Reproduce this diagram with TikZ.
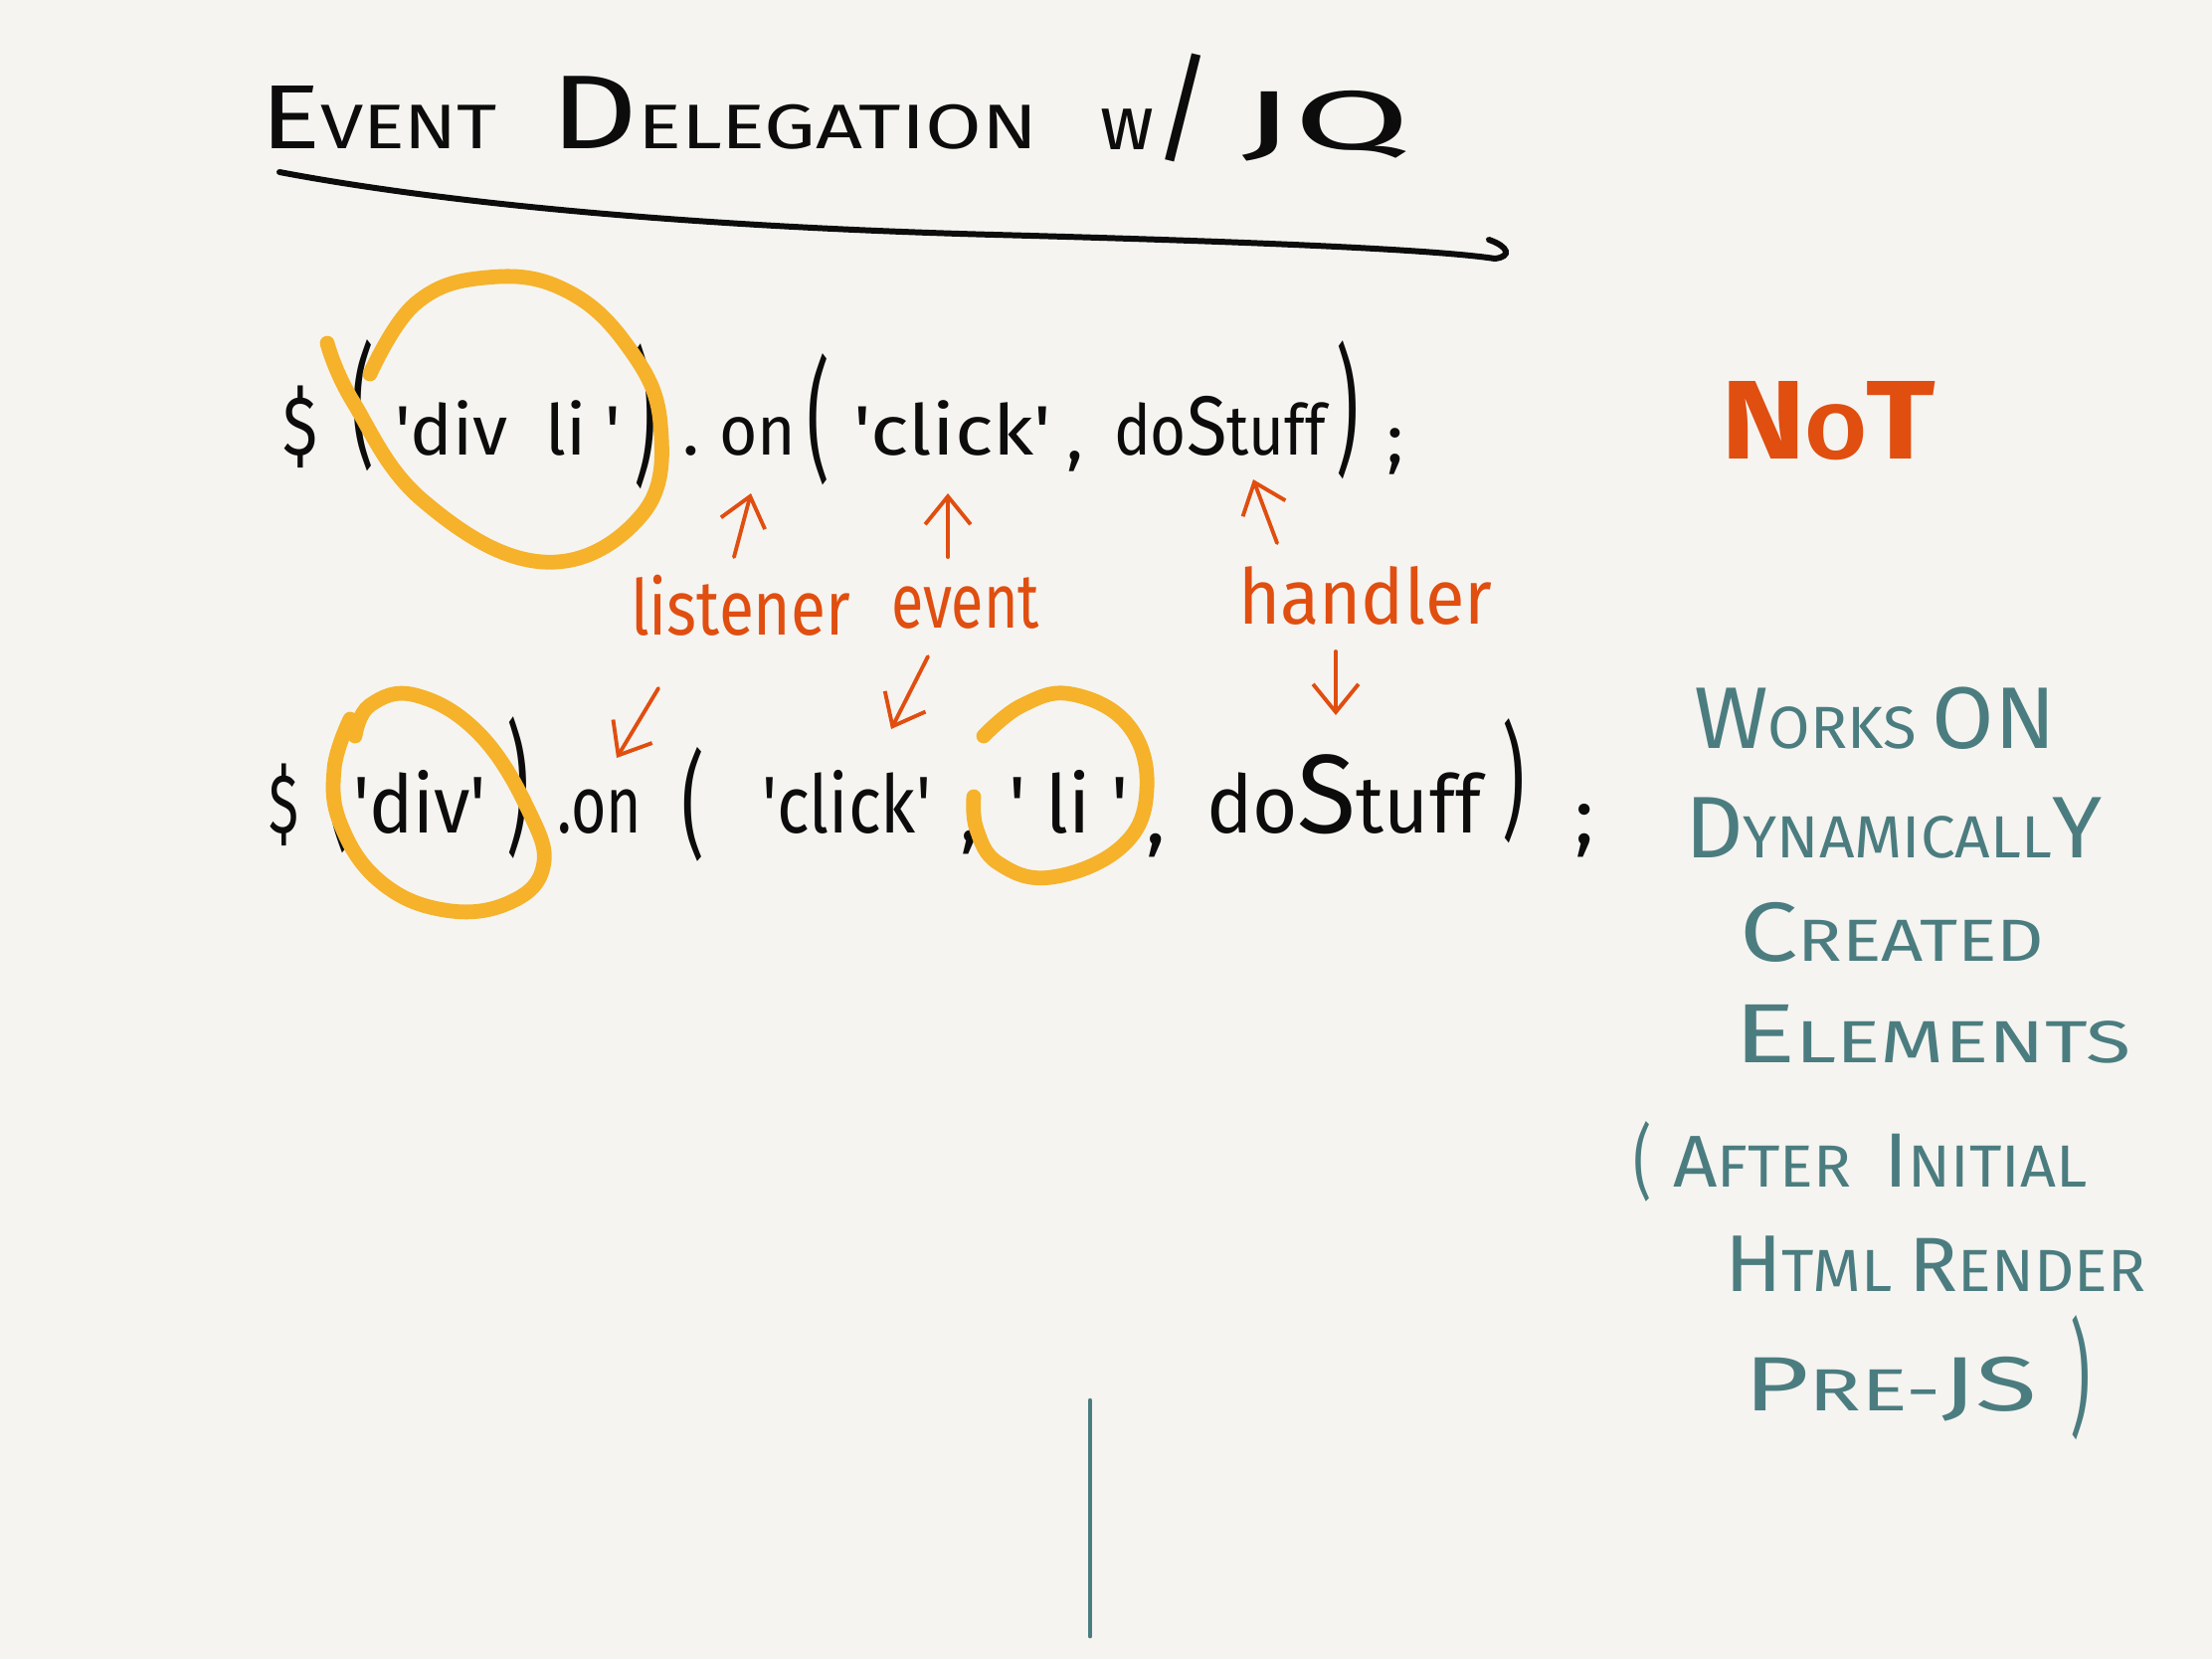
\documentclass[tikz,border=0pt]{standalone}
\usepackage{fontspec}
\setmainfont{Fira Sans}
\usetikzlibrary{arrows.meta}
\definecolor{bgc}{RGB}{245,244,240}
\definecolor{ink}{RGB}{12,12,12}
\definecolor{yel}{RGB}{245,178,42}
\definecolor{org}{RGB}{224,78,16}
\definecolor{tealink}{RGB}{75,125,128}
\newcommand\fs[1]{\fontsize{#1}{#1}\selectfont}
\newcommand\hw[3]{\resizebox{#1}{\height}{\fs{#2}#3}}
\newcommand\vp[3]{\scalebox{1}[#2]{\fs{#1}#3}}
\newcommand\qt{\textquotesingle}
\begin{document}
\begin{tikzpicture}[x=0.01cm,y=-0.01cm,
  txt/.style={inner sep=0,outer sep=0,anchor=base west},
  par/.style={inner sep=0,outer sep=0,anchor=center,text=ink},
  circ/.style={draw=yel,line width=4.2pt,line cap=round,line join=round},
  arr/.style={draw=org,line width=1.1pt,line cap=round,-{Straight Barb[length=8pt,width=13pt]}},
  uline/.style={draw=ink,line width=1.7pt,line cap=round}]
\fill[bgc] (0,0) rectangle (2224,1668);
\useasboundingbox (0,0) rectangle (2224,1668);

% title
\node[txt,text=ink] (t1) at (262,149) {\hw{2.38cm}{18}{{\fs{26}E}VENT}};
\node[txt,text=ink] (t2) at (553,149) {\hw{4.9cm}{18}{{\fs{30}D}ELEGATION}};
\node[txt,text=ink] (t3) at (1106,150) {\hw{1.14cm}{22}{w{\fs{34}/}}};
\node[txt,text=ink] (t4) at (1248,150) {\hw{1.7cm}{24}{JQ}};
\draw[uline] (281,173) .. controls (450,205) and (700,228) .. (1000,236)
  .. controls (1300,244) and (1450,252) .. (1503,260)
  .. controls (1520,258) and (1517,248) .. (1497,241);

% line 1
\node[txt,text=ink] (l1a) at (284,457) {\hw{0.35cm}{24}{\$}};
\node[par] (l1p1) at (365,408) {\vp{20}{1.9}{(}};
\node[txt,text=ink] (l1b) at (397,457) {\hw{2.27cm}{20}{\qt div\ \ li\ \qt}};
\node[par] (l1p2) at (649,419) {\vp{20}{2.1}{)}};
\node[txt,text=ink] (l1c) at (686,457) {\fs{20}.};
\node[txt,text=ink] (l1d) at (723,457) {\hw{0.77cm}{20}{on}};
\node[par] (l1p3) at (823,422) {\vp{20}{1.9}{(}};
\node[txt,text=ink] (l1e) at (858,457) {\hw{1.99cm}{20}{\qt click\qt}};
\node[txt,text=ink] (l1f) at (1072,462) {\fs{20},};
\node[txt,text=ink] (l1g) at (1120,457) {\hw{2.13cm}{20}{do{\fs{24}S}tuff}};
\node[par] (l1p4) at (1355,412) {\vp{20}{2.0}{)}};
\node[txt,text=ink] (l1h) at (1394,465) {\fs{20};};

% line 2
\node[txt,text=ink] (l2a) at (270,837) {\hw{0.3cm}{24}{\$}};
\node[par] (l2p1) at (340,792) {\vp{20}{1.9}{(}};
\node[txt,text=ink] (l2b) at (355,837) {\hw{1.34cm}{23}{\qt div\qt}};
\node[par] (l2p2) at (521,792) {\vp{20}{2.05}{)}};
\node[txt,text=ink] (l2c) at (560,837) {\hw{0.85cm}{23}{.on}};
\node[par] (l2p3) at (697,809) {\vp{20}{1.65}{(}};
\node[txt,text=ink] (l2d) at (766,837) {\hw{1.7cm}{23}{\qt click\qt}};
\node[txt,text=ink] (l2e) at (965,845) {\fs{23},};
\node[txt,text=ink] (l2f) at (1014,837) {\hw{1.21cm}{23}{\qt\ li\ \qt}};
\node[txt,text=ink] (l2g) at (1152,848) {\fs{23},};
\node[txt,text=ink] (l2h) at (1213,837) {\hw{2.76cm}{23}{do{\fs{32}S}tuff}};
\node[par] (l2p4) at (1522,785) {\vp{20}{1.8}{)}};
\node[txt,text=ink] (l2i) at (1583,848) {\fs{23};};

% yellow circles
\draw[circ] plot[smooth,tension=0.7] coordinates {(329,345) (355,404) (426,504) (546,565) (645,518) (664,426) (631,348) (567,291) (489,279) (418,305) (372,376)};
\draw[circ] plot[smooth,tension=0.7] coordinates {(357,740) (372,709) (418,699) (482,738) (532,816) (546,872) (511,908) (447,915) (383,887) (343,830) (336,773) (352,723)};
\draw[circ] plot[smooth,tension=0.7] coordinates {(989,740) (1028,709) (1078,698) (1135,730) (1153,794) (1128,851) (1057,882) (1004,868) (982,834) (979,801)};

% NOT
\node[txt,text=org] (nt) at (1730,461) {\hw{2.16cm}{32}{\bfseries N{\fs{22}O}T}};

% orange labels and arrows
\node[txt,text=org] (lis) at (634,638) {\hw{2.21cm}{22}{listener}};
\node[txt,text=org] (evt) at (896,631) {\hw{1.49cm}{22}{event}};
\node[txt,text=org] (hnd) at (1245,627) {\hw{2.55cm}{22}{handler}};
\coordinate (a1s) at (738,560); \coordinate (a1e) at (755,496);
\coordinate (a2s) at (953,560); \coordinate (a2e) at (953,496);
\coordinate (a3s) at (1284,546); \coordinate (a3e) at (1260,482);
\coordinate (a4s) at (662,692); \coordinate (a4e) at (620,762);
\coordinate (a5s) at (933,660); \coordinate (a5e) at (896,733);
\coordinate (a6s) at (1343,655); \coordinate (a6e) at (1343,719);
\draw[arr] (a1s) -- (a1e);
\draw[arr] (a2s) -- (a2e);
\draw[arr] (a3s) -- (a3e);
\draw[arr] (a4s) -- (a4e);
\draw[arr] (a5s) -- (a5e);
\draw[arr] (a6s) -- (a6e);

% teal notes
\node[txt,text=tealink] (w1) at (1703,752) {\hw{3.64cm}{17}{{\fs{25}W}ORKS {\fs{25}ON}}};
\node[txt,text=tealink] (w2) at (1694,862) {\hw{4.19cm}{17}{{\fs{25}D}YNAMICALL{\fs{25}Y}}};
\node[txt,text=tealink] (w3) at (1749,966) {\hw{3.06cm}{17}{{\fs{24}C}REATED}};
\node[txt,text=tealink] (w4) at (1743,1068) {\hw{3.99cm}{17}{{\fs{24}E}LEMENTS}};
\node[par,text=tealink] (w5p) at (1652,1168) {\vp{16}{1.45}{(}};
\node[txt,text=tealink] (w5) at (1682,1193) {\hw{4.16cm}{17}{{\fs{21}A}FTER \ {\fs{22}I}NITIAL}};
\node[txt,text=tealink] (w6) at (1734,1298) {\hw{4.23cm}{17}{{\fs{23}H}TML {\fs{22}R}ENDER}};
\node[txt,text=tealink] (w7) at (1753,1418) {\hw{2.95cm}{17}{{\fs{22}P}RE-{\fs{22}JS}}};
\node[par,text=tealink] (w7p) at (2092,1385) {\vp{18}{2.0}{)}};
\coordinate (vt) at (1096,1408); \coordinate (vb) at (1096,1645);
\draw[tealink,line width=1.3pt,line cap=round] (vt) -- (vb);
\end{tikzpicture}
\end{document}
